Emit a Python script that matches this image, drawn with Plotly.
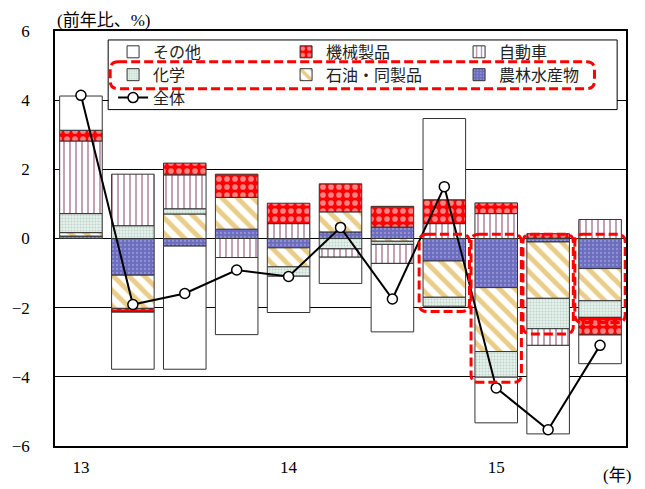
import plotly.graph_objects as go

# ---- data (前年比寄与度, %) ----
quarters = list(range(11))
tick_pos = [0, 4, 8]
tick_text = ["13", "14", "15"]

agri      = [0.07, -1.06, -0.22, 0.27, -0.27, 0.19, 0.33, -0.65, -1.42, -0.10, -0.87]
petroleum = [0.10, -0.96, 0.71, 0.92, -0.55, 0.58, -0.08, -1.05, -1.85, -1.63, -0.93]
chem      = [0.55, 0.37, 0.15, 0.00, -0.27, -0.30, -0.09, -0.26, -0.74, -0.88, -0.48]
auto      = [2.10, 1.49, 0.98, -0.55, 0.43, -0.24, -0.55, 0.43, 0.72, -0.48, 0.55]
machinery = [0.31, -0.11, 0.34, 0.67, 0.59, 0.81, 0.60, 0.69, 0.31, 0.14, -0.51]
other     = [0.99, -1.65, -3.56, -2.23, -1.05, -0.76, -1.98, 2.35, -1.32, -2.56, -0.83]
total     = [4.14, -1.91, -1.59, -0.91, -1.10, 0.32, -1.75, 1.50, -4.32, -5.53, -3.09]

highlight = [7, 8, 9, 10]

FONT = "Liberation Serif, Noto Sans CJK JP"
EDGE = dict(color="#333333", width=1)

fig = go.Figure()

def add_bar(vals, name, marker, legend, rank):
    fig.add_trace(go.Bar(x=quarters, y=vals, name=name, marker=marker,
                         legend=legend, legendrank=rank))

add_bar(agri, "農林水産物",
        dict(color="#6c6cc0", line=EDGE,
             pattern=dict(shape=".", fgcolor="#b8b8ea", bgcolor="#6c6cc0", size=4, solidity=0.25)),
        "legend2", 3)
add_bar(petroleum, "石油・同製品",
        dict(color="#d49b12", line=EDGE,
             pattern=dict(shape="\\", fgcolor="#d49b12", bgcolor="white", size=11, solidity=0.45)),
        "legend2", 2)
add_bar(chem, "化学",
        dict(color="#a9c9bd", line=EDGE,
             pattern=dict(shape=".", fgcolor="#94b8aa", bgcolor="#e6f1ec", size=3, solidity=0.35)),
        "legend2", 1)
add_bar(auto, "自動車",
        dict(color="#6e1f55", line=EDGE,
             pattern=dict(shape="|", fgcolor="#6e1f55", bgcolor="white", size=6, solidity=0.28)),
        "legend", 3)
add_bar(machinery, "機械製品",
        dict(color="#ff0000", line=EDGE,
             pattern=dict(shape=".", fgcolor="white", bgcolor="#ff0000", size=8, solidity=0.4)),
        "legend", 2)
add_bar(other, "その他",
        dict(color="white", line=EDGE),
        "legend", 1)

fig.add_trace(go.Scatter(x=quarters, y=total, name="全体", mode="lines+markers",
                         line=dict(color="black", width=2),
                         marker=dict(symbol="circle", size=10, color="white",
                                     line=dict(color="black", width=1.5)),
                         legend="legend3"))

# ---- highlight boxes (derived from data) ----
def rounded_path(x0, x1, y0, y1, rx, ry):
    return (f"M{x0+rx},{y1} L{x1-rx},{y1} Q{x1},{y1} {x1},{y1-ry} "
            f"L{x1},{y0+ry} Q{x1},{y0} {x1-rx},{y0} L{x0+rx},{y0} "
            f"Q{x0},{y0} {x0},{y0+ry} L{x0},{y1-ry} Q{x0},{y1} {x0+rx},{y1} Z")

shapes = []
# legend frame (white)
shapes.append(dict(type="rect", xref="paper", yref="paper", x0=0.0931, x1=0.9845,
                   y0=0.8106, y1=0.9784, line=dict(color="black", width=1),
                   fillcolor="white", layer="above"))
# red dashed around legend row 2
shapes.append(dict(type="path", xref="paper", yref="paper",
                   path=rounded_path(0.0966, 0.9448, 0.8609, 0.9257, 0.014, 0.019),
                   line=dict(color="#ff0000", width=3, dash="9px,4px"), layer="above"))
for i in highlight:
    neg = sum(v for v in (agri[i], petroleum[i], chem[i]) if v < 0)
    shapes.append(dict(type="path", xref="x", yref="y",
                       path=rounded_path(i - 0.485, i + 0.485, neg - 0.15, 0.12, 0.15, 0.23),
                       line=dict(color="#ff0000", width=3, dash="9px,4px"), layer="above"))

legend_common = dict(orientation="h", font=dict(family=FONT, size=16, color="#222"),
                     bgcolor="rgba(0,0,0,0)", borderwidth=0, xanchor="left",
                     yanchor="middle", entrywidth=128, itemclick=False)

fig.update_layout(
    width=645, height=489,
    margin=dict(l=46, r=19, t=31, b=41),
    paper_bgcolor="white", plot_bgcolor="white",
    barmode="relative", bargap=0.18,
    font=dict(family=FONT, size=17, color="black"),
    showlegend=True,
    legend=dict(x=0.1017, y=0.9496, **legend_common),
    legend2=dict(x=0.1017, y=0.8945, **legend_common),
    legend3=dict(x=0.1017, y=0.8393, **legend_common),
    xaxis=dict(range=[-0.5, 10.5], tickvals=tick_pos, ticktext=tick_text,
               showgrid=False, zeroline=False, showline=True, linecolor="black",
               linewidth=1.5, mirror=True, ticks="", ticklabelstandoff=5,
               tickfont=dict(family=FONT, size=17)),
    yaxis=dict(range=[-6, 6], tickvals=[-6, -4, -2, 0, 2, 4, 6],
               showgrid=True, gridcolor="black", gridwidth=1,
               zeroline=True, zerolinecolor="black", zerolinewidth=1,
               showline=True, linecolor="black", linewidth=1.5, mirror=True,
               ticks="", ticklabelstandoff=20, tickfont=dict(family=FONT, size=17)),
    shapes=shapes,
    annotations=[
        dict(text="(前年比、%)", xref="paper", yref="paper", x=0.0, y=1.026,
             xanchor="left", yanchor="middle", showarrow=False,
             font=dict(family=FONT, size=17)),
        dict(text="(年)", xref="paper", yref="paper", x=1.012, y=-0.072,
             xanchor="right", yanchor="middle", showarrow=False,
             font=dict(family=FONT, size=17)),
    ],
)

fig.write_html("out.html")
